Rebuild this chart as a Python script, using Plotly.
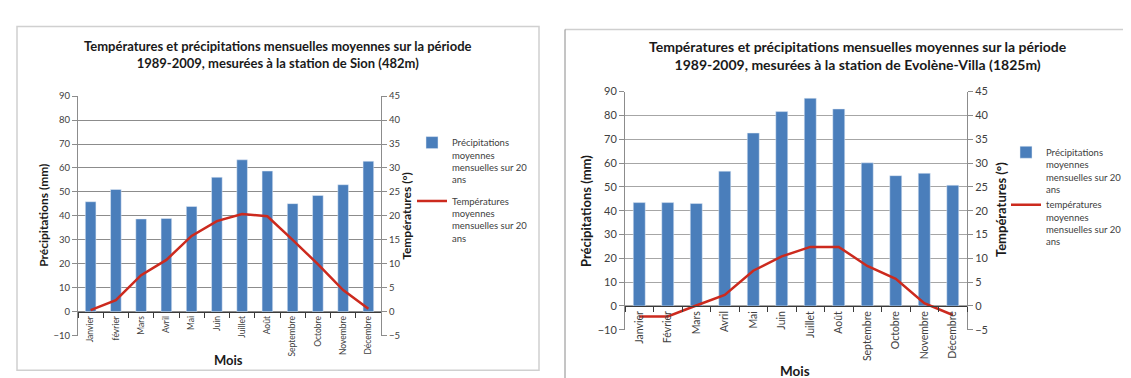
import plotly.graph_objects as go

W, H = 1131, 378

months_sion = ["Janvier", "février", "Mars", "Avril", "Mai", "Juin", "Juillet",
               "Août", "Septembre", "Octobre", "Novembre", "Décembre"]
months_evo = ["Janvier", "Février", "Mars", "Avril", "Mai", "Juin", "Juillet",
              "Août", "Septembre", "Octobre", "Novembre", "Décembre"]

precip_sion = [45.9, 51.0, 38.7, 38.9, 43.9, 56.1, 63.4, 58.7, 45.1, 48.5, 53.0, 62.8]
temp_sion = [0.3, 2.4, 7.6, 10.8, 15.8, 18.9, 20.4, 19.9, 15.0, 9.9, 4.5, 0.6]

precip_evo = [43.4, 43.4, 43.0, 56.6, 72.6, 81.6, 87.2, 82.7, 60.1, 54.7, 55.7, 50.7]
temp_evo = [-2.2, -2.2, 0.1, 2.3, 7.4, 10.4, 12.4, 12.4, 8.4, 5.7, 0.6, -1.9]

title_sion = "Températures et précipitations mensuelles moyennes sur la période<br>1989-2009, mesurées à la station de Sion (482m)"
title_evo = "Températures et précipitations mensuelles moyennes sur la période<br>1989-2009, mesurées à la station de Evolène-Villa (1825m)"
leg_precip = "Précipitations<br>moyennes<br>mensuelles sur 20<br>ans"
leg_temp_sion = "Températures<br>moyennes<br>mensuelles sur 20<br>ans"
leg_temp_evo = "températures<br>moyennes<br>mensuelles sur 20<br>ans"

FONT = "Lato, 'Open Sans', sans-serif"
BAR = "#4a7ebb"
RED = "#cc2a1e"
TXT = "#404040"


def px(x):
    return x / W


def py(y):
    return 1 - y / H


fig = go.Figure()

# Left chart (Sion)
fig.add_trace(go.Bar(x=months_sion, y=precip_sion, name=leg_precip, marker_color=BAR,
                     xaxis="x", yaxis="y", legend="legend", legendgroup="a"))
fig.add_trace(go.Scatter(x=months_sion, y=temp_sion, name=leg_temp_sion, mode="lines",
                         line=dict(color=RED, width=2.5), xaxis="x", yaxis="y2",
                         legend="legend", legendgroup="b"))
# Right chart (Evolène)
fig.add_trace(go.Bar(x=months_evo, y=precip_evo, name=leg_precip, marker_color=BAR,
                     xaxis="x2", yaxis="y3", legend="legend2", legendgroup="c"))
fig.add_trace(go.Scatter(x=months_evo, y=temp_evo, name=leg_temp_evo, mode="lines",
                         line=dict(color=RED, width=2.5), xaxis="x2", yaxis="y4",
                         legend="legend2", legendgroup="c"))

L = dict(x0=70, x1=373, yt=84, yb=332, y0=307.2)
R = dict(x0=617, x1=959, yt=79.3, yb=326, y0=301.3)


def xax(c, fs):
    return dict(domain=[px(c["x0"]), px(c["x1"])], anchor="free", position=py(c["y0"]),
                type="category", showline=True, linecolor="#3a3a3a", linewidth=1,
                ticks="outside", tickson="boundaries", ticklen=5, tickcolor="#3a3a3a",
                tickangle=-90, showgrid=False, zeroline=False,
                tickfont=dict(family=FONT, size=fs, color=TXT), fixedrange=True)


def yax(c, rng, dtick, side, fs, grid, gridcolor, anchor, overlay=None):
    d = dict(domain=[py(c["yb"]), py(c["yt"])], range=rng, dtick=dtick, tick0=0,
             side=side, anchor=anchor, showgrid=grid, gridcolor=gridcolor, gridwidth=1,
             showline=True, linecolor="#8c8c8c", linewidth=1, ticks="outside", ticklen=5,
             tickcolor="#8c8c8c", zeroline=False,
             tickfont=dict(family=FONT, size=fs, color=TXT), fixedrange=True)
    if overlay:
        d["overlaying"] = overlay
    return d


fig.update_layout(
    width=W, height=H, margin=dict(l=0, r=0, t=0, b=0),
    paper_bgcolor="white", plot_bgcolor="white",
    font=dict(family=FONT, color=TXT),
    bargap=0.58,
    xaxis=xax(L, 8.5),
    yaxis=yax(L, [-10, 90], 10, "left", 9.5, True, "#8c8c8c", "x"),
    yaxis2=yax(L, [-5, 45], 5, "right", 9.5, False, "#8c8c8c", "x", overlay="y"),
    xaxis2=xax(R, 10.5),
    yaxis3=yax(R, [-10, 90], 10, "left", 11, True, "#a6a6a6", "x2"),
    yaxis4=yax(R, [-5, 45], 5, "right", 11, False, "#a6a6a6", "x2", overlay="y3"),
    legend=dict(x=px(404), y=py(119), xanchor="left", yanchor="top", valign="top",
                font=dict(family=FONT, size=9.5, color=TXT), tracegroupgap=6,
                bgcolor="rgba(0,0,0,0)"),
    legend2=dict(x=px(998), y=py(129), xanchor="left", yanchor="top", valign="top",
                 font=dict(family=FONT, size=9.5, color=TXT), tracegroupgap=0,
                 bgcolor="rgba(0,0,0,0)"),
    showlegend=True,
)

ann = []
ann.append(dict(text="<b>" + title_sion + "</b>", x=px(270), y=py(40.5), xref="paper", yref="paper",
                showarrow=False, xanchor="center", yanchor="middle",
                font=dict(family=FONT, size=13, color="#1a1a1a")))
ann.append(dict(text="<b>" + title_evo + "</b>", x=px(850), y=py(42), xref="paper", yref="paper",
                showarrow=False, xanchor="center", yanchor="middle",
                font=dict(family=FONT, size=14, color="#1a1a1a")))
for txt, x, y, fs in [("Précipitations (mm)", 36, 208, 12), ("Températures (°)", 399, 208, 12),
                      ("Précipitations (mm)", 578, 203, 13), ("Températures (°)", 993, 202, 13)]:
    ann.append(dict(text="<b>" + txt + "</b>", x=px(x), y=py(y), xref="paper", yref="paper",
                    showarrow=False, textangle=-90, xanchor="center", yanchor="middle",
                    font=dict(family=FONT, size=fs, color="#1a1a1a")))
for x, y, fs in [(220, 357, 13), (787, 369, 13.5)]:
    ann.append(dict(text="<b>Mois</b>", x=px(x), y=py(y), xref="paper", yref="paper",
                    showarrow=False, xanchor="center", yanchor="middle",
                    font=dict(family=FONT, size=fs, color="#1a1a1a")))
fig.update_layout(annotations=ann)

shapes = [
    dict(type="rect", xref="paper", yref="paper", x0=px(9), x1=px(531), y0=py(368), y1=py(12),
         line=dict(color="#d0d0d0", width=1.5)),
    dict(type="line", xref="paper", yref="paper", x0=px(557), x1=1, y0=py(15), y1=py(15),
         line=dict(color="#cfcfcf", width=1.5)),
    dict(type="line", xref="paper", yref="paper", x0=px(557), x1=px(557), y0=0, y1=py(15),
         line=dict(color="#8a8a8a", width=1)),
]
fig.update_layout(shapes=shapes)

fig.write_html("out.html")
